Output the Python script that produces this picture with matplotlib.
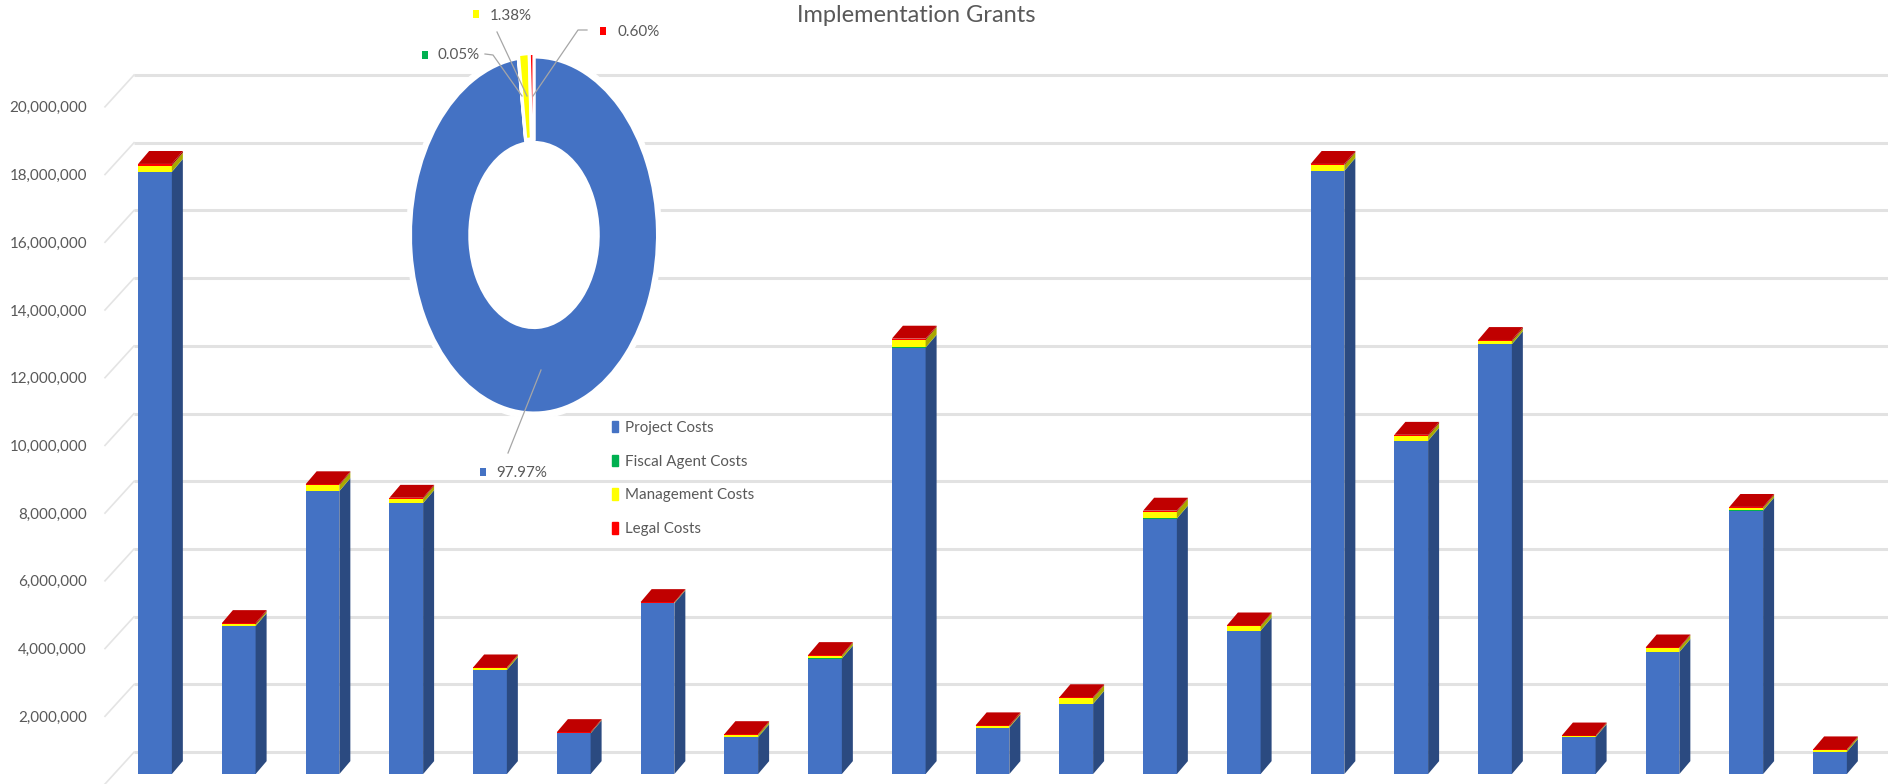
#!/usr/bin/env python3
import numpy as np
import matplotlib
matplotlib.use('Agg')
import matplotlib.pyplot as plt
from matplotlib.patches import Ellipse, Patch

# DATA
project = [17780000, 4370000, 8355000, 8000000, 3070000, 1200000, 5040000,
	1080000, 3410000, 12590000, 1370000, 2070000, 7540000, 4230000,
	17810000, 9840000, 12690000, 1090000, 3600000, 7780000, 650000]
fiscal = [10000, 5000, 5000, 5000, 5000, 5000, 5000, 20000, 5000, 10000, 5000,
	10000, 10000, 10000, 10000, 10000, 10000, 5000, 10000, 10000, 5000]
management = [180000, 50000, 170000, 125000, 50000, 10000, 15000, 55000, 75000,
	220000, 30000, 160000, 200000, 125000, 160000, 130000, 80000, 20000,
	105000, 70000, 50000]
legal = [50000, 35000, 30000, 30000, 25000, 25000, 20000, 25000, 25000, 40000,
	35000, 30000, 30000, 25000, 40000, 40000, 40000, 25000, 25000, 30000, 25000]
gridvals = [0, 2000000, 4000000, 6000000, 8000000, 10000000, 12000000,
	14000000, 16000000, 18000000, 20000000]
ticklabels = ['', '2,000,000', '4,000,000', '6,000,000', '8,000,000', '10,000,000',
	'12,000,000', '14,000,000', '16,000,000', '18,000,000', '20,000,000']

cost_names = ['Project Costs', 'Fiscal Agent Costs', 'Management Costs', 'Legal Costs']
pie_shares = [97.97, 0.05, 1.38, 0.60]
pie_labels = ['97.97%', '0.05%', '1.38%', '0.60%']
title = 'Implementation Grants'

# look
W, H = 1888, 784
FRONT = ['#4472c4', '#00b050', '#ffff00', '#ff0000']
SIDE = ['#2b4a80', '#0a6a38', '#a8a800', '#a00000']
TOP = '#c00000'
TXT = '#595959'
plt.rcParams['font.family'] = ['Lato']
FS = 10.9

PX_Y = 2000000 / 68.15     # dollars per pixel
PX_X = 1 / 83.75           # category per pixel
X0, Y0 = 155, 779          # pixel of bar 0 centre, pixel of value 0 on the front plane
AX_LEFT = 100

fig = plt.figure(figsize=(W / 100, H / 100), dpi=100, facecolor='white')
ax = fig.add_axes([AX_LEFT / W, 0, 1 - AX_LEFT / W, 1])
ax.set_xlim((AX_LEFT - X0) * PX_X, (W - X0) * PX_X)
ax.set_ylim((Y0 - H) * PX_Y, Y0 * PX_Y)
for s in ax.spines.values():
	s.set_visible(False)
ax.set_xticks([])

# back wall and its left side
back_dy = 22 * PX_Y
wall_x = (134 - X0) * PX_X
wall_dx = 29 * PX_X
wall_dy = 32 * PX_Y
grid = np.array(gridvals)
ax.hlines(grid + back_dy, wall_x, ax.get_xlim()[1], color='#e2e2e2', lw=2.2, zorder=1)
for g in grid:
	ax.plot([wall_x, wall_x - wall_dx], [g + back_dy, g + back_dy - wall_dy],
		color='#e4e4e4', lw=1.2, zorder=1)
ax.set_yticks(grid + back_dy - wall_dy)
ax.set_yticklabels(ticklabels, fontsize=FS, color=TXT)
ax.tick_params(axis='y', length=0, pad=9.4)

# bars: front faces go through ax.bar, sides and tops follow them
xs = np.arange(len(project))
bar_w = 33.7 * PX_X
dx = 11 * PX_X
dy = 13 * PX_Y
bottom = np.zeros(len(project))
for vals, fc, sc in zip([project, fiscal, management, legal], FRONT, SIDE):
	vals = np.array(vals, dtype=float)
	ax.bar(xs, vals, bar_w, bottom=bottom, color=fc, zorder=3)
	for x, b, v in zip(xs, bottom, vals):
		xr = x + bar_w / 2
		ax.fill([xr, xr + dx, xr + dx, xr], [b, b + dy, b + v + dy, b + v], color=sc, lw=0, zorder=3)
	bottom = bottom + vals
for x, t in zip(xs, bottom):
	xl = x - bar_w / 2
	ax.fill([xl, xl + bar_w, xl + bar_w + dx, xl + dx], [t, t, t + dy, t + dy], color=TOP, lw=0, zorder=3)

# donut, squeezed to an ellipse
cx, cy, rx, ry = 534, 235, 123.5, 178
pad = 1.15
pax = fig.add_axes([(cx - rx * pad) / W, 1 - (cy + ry * pad) / H, 2 * rx * pad / W, 2 * ry * pad / H], zorder=5)
pax.patch.set_visible(False)
pax.add_patch(Ellipse((0, 0), 2.06, 2.06, color='white', zorder=0))
wedges, _ = pax.pie(pie_shares, colors=FRONT, startangle=90, counterclock=False,
	explode=[0, 0.02, 0.02, 0.02], radius=1,
	wedgeprops=dict(width=0.48, edgecolor='white', linewidth=2.2))
pax.set_aspect('auto')
pax.set_xlim(-pad, pad)
pax.set_ylim(-pad, pad)
pax.axis('off')

# overlay in pixel coords for the pie labels
ov = fig.add_axes([0, 0, 1, 1], zorder=6)
ov.set_xlim(0, W)
ov.set_ylim(H, 0)
ov.axis('off')
leaders = [
	[(541, 370), (508, 453)],
	[(485, 54), (493, 55), (522, 96)],
	[(497, 32), (527, 96)],
	[(587, 30), (578, 30), (533, 96)],
]
for pts in leaders:
	ov.plot(*zip(*pts), color='#a6a6a6', lw=0.9)
spots = [(483, 472, 496, 473), (425, 55, 438, 55), (476, 14, 490, 16), (603, 31, 617, 32)]
for (mx, my, tx, ty), lab, col in zip(spots, pie_labels, FRONT):
	ov.fill([mx - 3, mx + 3, mx + 3, mx - 3], [my - 4, my - 4, my + 4, my + 4], color=col, lw=0)
	ov.text(tx, ty, lab, fontsize=FS, color=TXT, va='center', ha='left')

handles = [Patch(color=c) for c in FRONT]
fig.legend(handles, cost_names, loc='center left', bbox_to_anchor=(612 / W, 1 - 478.5 / H),
	frameon=False, fontsize=FS, labelcolor=TXT, handlelength=0.4, handleheight=0.8,
	handletextpad=0.45, labelspacing=1.3, borderpad=0, borderaxespad=0)

fig.text(916 / W, 1 - 15 / H, title, fontsize=17, color=TXT, ha='center', va='center')

fig.savefig('out.png', dpi=100)
print('EOF')
